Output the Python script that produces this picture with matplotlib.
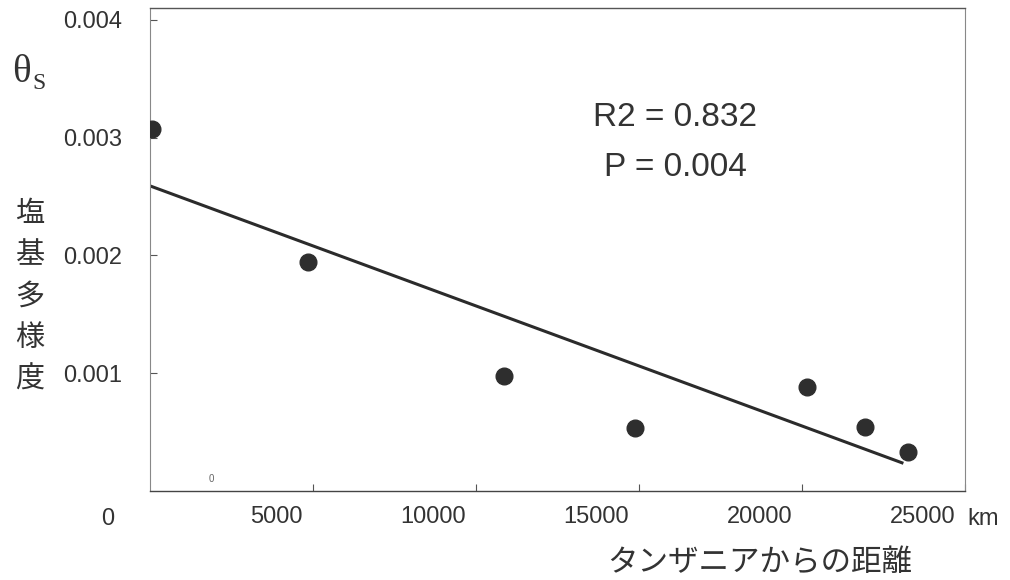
import matplotlib
matplotlib.use("Agg")
import matplotlib.pyplot as plt
import matplotlib.transforms as mtransforms

# data
distance_km = [50, 4860, 10870, 14880, 20160, 21930, 23240]
diversity = [0.00307, 0.00194, 0.000975, 0.000531, 0.000884, 0.000540, 0.000333]
fit_x = [0, 23110]
fit_y = [0.00259, 0.000235]
x_ticks = [5000, 10000, 15000, 20000, 25000]
y_ticks = [0.001, 0.002, 0.003, 0.004]
y_tick_labels = ["0.001", "0.002", "0.003", "0.004"]
stats_lines = ["R2 = 0.832", "P = 0.004"]
y_label_chars = "塩基多様度"
x_label = "タンザニアからの距離"

plt.rcParams["font.family"] = ["Liberation Sans", "DejaVu Sans"]
jp = ["Noto Sans CJK JP", "DejaVu Sans"]
serif = ["Liberation Serif", "DejaVu Serif"]
ink = "#333333"

fig = plt.figure(figsize=(10.1, 5.8), dpi=100)
ax = fig.add_axes([150 / 1010, 1 - 491 / 580, 815 / 1010, 483 / 580])

ax.plot(fit_x, fit_y, color="#2b2b2b", linewidth=2.2, solid_capstyle="butt")
ax.plot(distance_km, diversity, "o", color="#2e2e2e", markersize=12, zorder=3)

ax.set_xlim(0, 25000)
ax.set_ylim(0, 0.0041)

ax.set_xticks(x_ticks)
ax.set_xticklabels([str(v) for v in x_ticks])
ax.set_yticks(y_ticks)
ax.set_yticklabels(y_tick_labels)
ax.tick_params(axis="both", direction="in", length=5, width=0.8, color="#555555",
               labelsize=17, labelcolor=ink)
ax.tick_params(axis="y", pad=20)
ax.tick_params(axis="x", pad=11)

# x labels in the scan sit to the left of their ticks
shift = mtransforms.ScaledTranslation(-10 / 100, 0, fig.dpi_scale_trans)
for lab in ax.get_xticklabels():
    lab.set_horizontalalignment("right")
    lab.set_transform(lab.get_transform() + shift)

ax.spines["left"].set_color("#888888")
ax.spines["left"].set_linewidth(0.8)
ax.spines["right"].set_color("#888888")
ax.spines["right"].set_linewidth(0.8)
ax.spines["top"].set_color("#555555")
ax.spines["top"].set_linewidth(1.0)
ax.spines["bottom"].set_color("#444444")
ax.spines["bottom"].set_linewidth(1.0)

# origin and unit labels
fig.text(108 / 1010, 1 - 519 / 580, "0", fontsize=17, color=ink, ha="center", va="center")
fig.text(967 / 1010, 1 - 519 / 580, "km", fontsize=17, color=ink, ha="left", va="center")
fig.text(211 / 1010, 1 - 479 / 580, "0", fontsize=7, color="#666666", ha="center", va="center")

# statistics
for i, line in enumerate(stats_lines):
    fig.text(675 / 1010, 1 - (117 + 50 * i) / 580, line, fontsize=24, color=ink,
             ha="center", va="center")

# y axis title: theta_S and vertical Japanese label
fig.text(12 / 1010, 1 - 82 / 580, "θ", fontsize=28, color=ink, family=serif,
         ha="left", va="baseline")
fig.text(32 / 1010, 1 - 89 / 580, "S", fontsize=17, color=ink, family=serif,
         ha="left", va="baseline")
for i, ch in enumerate(y_label_chars):
    fig.text(30 / 1010, 1 - (214 + 41.5 * i) / 580, ch, fontsize=21, color=ink,
             family=jp, ha="center", va="center")

fig.text(760 / 1010, 1 - 563 / 580, x_label, fontsize=22, color=ink, family=jp,
         ha="center", va="center")

fig.savefig("out.png", dpi=100)
